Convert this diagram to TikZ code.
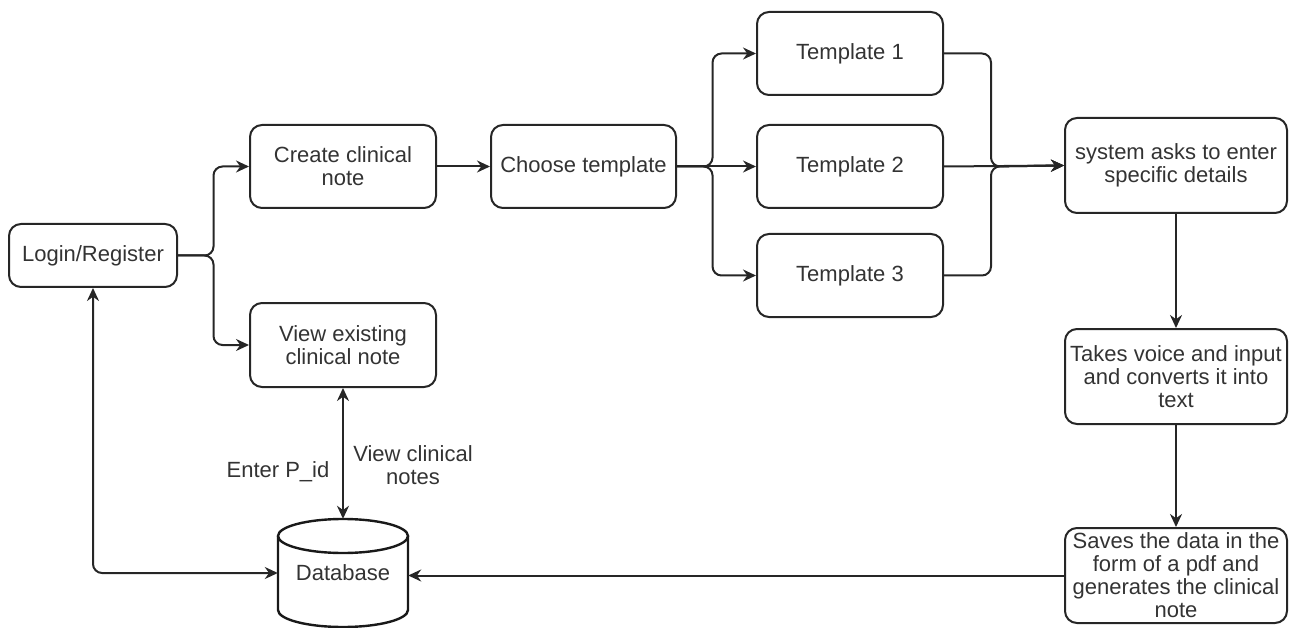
\documentclass[tikz,border=0pt]{standalone}
\usepackage{fontspec}
\setmainfont{Liberation Sans}
\usetikzlibrary{arrows.meta,calc}
\begin{document}
\begin{tikzpicture}[x=1pt,y=-1pt,
  box/.style={draw=black!85, line width=2pt, rounded corners=12pt, minimum width=186pt, minimum height=83pt, align=center, font=\fontsize{22}{23}\selectfont, text=black!80, inner sep=2pt},
  wbox/.style={box, minimum width=222pt, minimum height=95pt},
  arr/.style={draw=black!85, line width=2pt, rounded corners=9pt, -{Stealth[length=13pt,width=12pt]}},
  darr/.style={draw=black!85, line width=2pt, rounded corners=9pt, {Stealth[length=13pt,width=12pt]}-{Stealth[length=13pt,width=12pt]}},
  lbl/.style={font=\fontsize{22}{23}\selectfont, text=black!80, align=center}]
\useasboundingbox (0,0) rectangle (1290,628);
\node[box, minimum width=168pt, minimum height=63pt] (login) at (93,255.5) {Login/Register};
\node[box] (create) at (343,166.5) {Create clinical\\note};
\node[box, minimum height=84pt] (view) at (343,345) {View existing\\clinical note};
\node[box, minimum width=185pt] (choose) at (583.5,166.5) {Choose template};
\node[box] (t1) at (850,53.5) {Template 1};
\node[box] (t2) at (850,166.5) {Template 2};
\node[box] (t3) at (850,275.5) {Template 3};
\node[wbox] (sys) at (1176,165.5) {system asks to enter\\specific details};
\node[wbox] (takes) at (1176,376.5) {Takes voice and input\\and converts it into\\text};
\node[wbox] (saves) at (1176,575.5) {Saves the data in the\\form of a pdf and\\generates the clinical\\note};
% database cylinder
\node[minimum width=130pt, minimum height=108pt, inner sep=0pt, font=\fontsize{22}{23}\selectfont, text=black!80] (db) at (343,573) {Database};
\draw[black!90, line width=2.4pt] (343,536) ellipse [x radius=65pt, y radius=17pt];
\draw[black!90, line width=2.4pt] (278,536) -- (278,610) arc[start angle=180, end angle=360, x radius=65pt, y radius=17pt] -- (408,536);
% connectors
\draw[arr] (login.east) -| ($(login.east)!0.5!(create.west)$) |- (create.west);
\draw[arr] (login.east) -| ($(login.east)!0.5!(view.west)$) |- (view.west);
\draw[arr] (create.east) -- (choose.west);
\draw[arr] (choose.east) -| ($(choose.east)!0.45!(t1.west)$) |- (t1.west);
\draw[arr] (choose.east) -- (t2.west);
\draw[arr] (choose.east) -| ($(choose.east)!0.45!(t3.west)$) |- (t3.west);
\coordinate (m) at (991,166.5);
\draw[arr] (t1.east) -| (m) -- (sys.west);
\draw[arr] (t2.east) -- (sys.west);
\draw[arr] (t3.east) -| (m) -- (sys.west);
\draw[arr] (sys.south) -- (takes.north);
\draw[arr] (takes.south) -- (saves.north);
\draw[arr] (saves.west) -- (saves.west -| db.east);
\draw[darr] (login.south) |- (db.west);
\draw[darr] (view.south) -- (db.north);
\node[lbl] (l1) at (278,472) {Enter P\_id};
\node[lbl] (l2) at (413,465) {View clinical\\notes};
\end{tikzpicture}
\end{document}
